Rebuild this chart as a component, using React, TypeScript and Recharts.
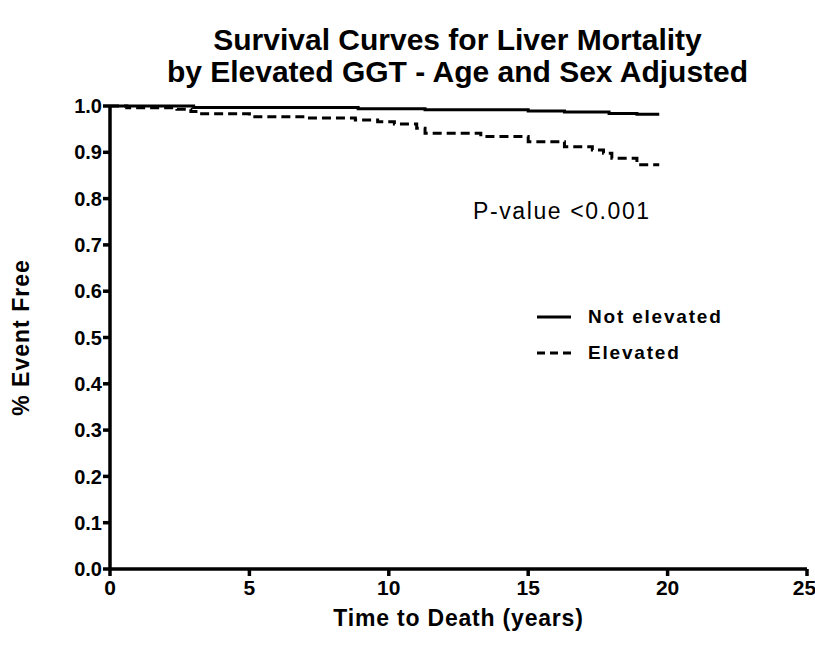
import { LineChart, Line, XAxis, YAxis } from "recharts";

const notElevatedYears = [0, 3.0, 8.9, 11.3, 15.0, 16.3, 17.9, 18.9, 19.7];
const notElevatedSurvival = [1.0, 0.997, 0.994, 0.992, 0.989, 0.987, 0.984, 0.982, 0.982];

const elevatedYears = [0, 0.6, 2.4, 2.9, 3.2, 5.0, 7.0, 8.8, 9.6, 10.2, 11.0, 11.3, 13.3, 15.0, 16.3, 17.3, 17.7, 18.0, 18.9, 19.7];
const elevatedSurvival = [1.0, 0.996, 0.993, 0.988, 0.983, 0.977, 0.974, 0.97, 0.966, 0.961, 0.952, 0.941, 0.934, 0.923, 0.912, 0.905, 0.898, 0.887, 0.873, 0.873];

const xTicks = [0, 5, 10, 15, 20, 25];
const yTicks = [0, 0.1, 0.2, 0.3, 0.4, 0.5, 0.6, 0.7, 0.8, 0.9, 1.0];

const notElevated = notElevatedYears.map((t, i) => ({ t, s: notElevatedSurvival[i] }));
const elevated = elevatedYears.map((t, i) => ({ t, s: elevatedSurvival[i] }));

const FONT = '"Liberation Sans", Arial, sans-serif';

export default function App() {
  return (
    <div style={{ position: "absolute", left: 0, top: 0, width: 815, height: 645, background: "#fff", fontFamily: FONT }}>
      {/* Title */}
      <div
        style={{
          position: "absolute",
          left: 0,
          top: 24,
          width: 915,
          textAlign: "center",
          fontSize: 30,
          fontWeight: "bold",
          lineHeight: "32px",
          color: "#000",
        }}
      >
        Survival Curves for Liver Mortality
        <br />
        by Elevated GGT - Age and Sex Adjusted
      </div>

      <LineChart width={815} height={645} margin={{ top: 106, right: 8, bottom: 0, left: 0 }}>
        <XAxis
          dataKey="t"
          type="number"
          domain={[0, 25]}
          ticks={xTicks}
          height={76}
          axisLine={{ stroke: "#000", strokeWidth: 3.5 }}
          tickLine={{ stroke: "#000", strokeWidth: 3.5 }}
          tickSize={7}
          tickMargin={4}
          tick={{ fill: "#000", fontSize: 21, fontWeight: "bold", fontFamily: FONT }}
          label={{
            value: "Time to Death (years)",
            position: "insideBottom",
            offset: 19,
            style: { fill: "#000", fontSize: 23, fontWeight: "bold", fontFamily: FONT, letterSpacing: 0.8 },
          }}
        />
        <YAxis
          type="number"
          domain={[0, 1]}
          ticks={yTicks}
          width={110}
          axisLine={{ stroke: "#000", strokeWidth: 3.5 }}
          tickLine={{ stroke: "#000", strokeWidth: 3.5 }}
          tickSize={7}
          tickMargin={1}
          tickFormatter={(v: number) => v.toFixed(1)}
          tick={{ fill: "#000", fontSize: 20, fontWeight: "bold", fontFamily: FONT }}
          label={{
            value: "% Event Free",
            angle: -90,
            position: "insideLeft",
            offset: 21,
            style: { fill: "#000", fontSize: 23, fontWeight: "bold", fontFamily: FONT, textAnchor: "middle", letterSpacing: 1 },
          }}
        />
        <Line
          data={notElevated}
          dataKey="s"
          type="stepAfter"
          stroke="#000"
          strokeWidth={3}
          dot={false}
          isAnimationActive={false}
        />
        <Line
          data={elevated}
          dataKey="s"
          type="stepAfter"
          stroke="#000"
          strokeWidth={3}
          strokeDasharray="9 5"
          dot={false}
          isAnimationActive={false}
        />
      </LineChart>

      {/* P-value annotation */}
      <div style={{ position: "absolute", left: 473, top: 198, fontSize: 23, letterSpacing: 1.6, color: "#000", whiteSpace: "nowrap" }}>
        P-value &lt;0.001
      </div>

      {/* Legend */}
      <div style={{ position: "absolute", left: 537, top: 302, fontSize: 19, fontWeight: "bold", letterSpacing: 1.8, color: "#000" }}>
        <div style={{ display: "flex", alignItems: "center", height: 30 }}>
          <svg width={34} height={6} style={{ marginRight: 17 }}>
            <line x1={0} y1={3} x2={34} y2={3} stroke="#000" strokeWidth={3} />
          </svg>
          <span>Not elevated</span>
        </div>
        <div style={{ display: "flex", alignItems: "center", height: 30, marginTop: 6 }}>
          <svg width={34} height={6} style={{ marginRight: 17 }}>
            <line x1={0} y1={3} x2={34} y2={3} stroke="#000" strokeWidth={3} strokeDasharray="8 5" />
          </svg>
          <span>Elevated</span>
        </div>
      </div>
    </div>
  );
}
